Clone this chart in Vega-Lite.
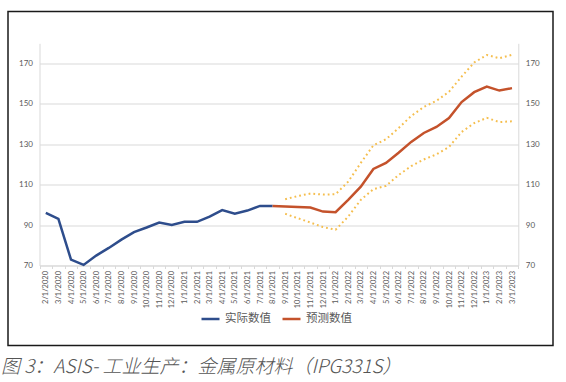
{
  "$schema": "https://vega.github.io/schema/vega-lite/v6.json",
  "width": 545,
  "height": 334,
  "autosize": {"type": "none"},
  "padding": {"left": 8, "top": 11.5, "right": 13, "bottom": 36.5},
  "background": "#ffffff",
  "title": {
    "text": "图 3：ASIS- 工业生产：金属原材料（IPG331S）",
    "orient": "bottom",
    "anchor": "start",
    "font": "Noto Sans CJK SC",
    "fontStyle": "italic",
    "fontWeight": 300,
    "fontSize": 19,
    "color": "#555555",
    "offset": 12,
    "dx": -3
  },
  "config": {
    "view": {"stroke": "#1a1a1a", "strokeWidth": 1.5}
  },
  "data": {
    "values": [
      {"d": "2/1/2020", "actual": 96.0},
      {"d": "3/1/2020", "actual": 93.1},
      {"d": "4/1/2020", "actual": 72.9},
      {"d": "5/1/2020", "actual": 70.3},
      {"d": "6/1/2020", "actual": 74.9},
      {"d": "7/1/2020", "actual": 78.7},
      {"d": "8/1/2020", "actual": 82.8},
      {"d": "9/1/2020", "actual": 86.5},
      {"d": "10/1/2020", "actual": 88.8},
      {"d": "11/1/2020", "actual": 91.3},
      {"d": "12/1/2020", "actual": 90.1},
      {"d": "1/1/2021", "actual": 91.6},
      {"d": "2/1/2021", "actual": 91.6},
      {"d": "3/1/2021", "actual": 94.2},
      {"d": "4/1/2021", "actual": 97.4},
      {"d": "5/1/2021", "actual": 95.6},
      {"d": "6/1/2021", "actual": 97.2},
      {"d": "7/1/2021", "actual": 99.5},
      {"d": "8/1/2021", "actual": 99.4, "fc": 99.4},
      {"d": "9/1/2021", "fc": 99.2, "up": 102.8, "lo": 95.6},
      {"d": "10/1/2021", "fc": 98.9, "up": 104.4, "lo": 93.4},
      {"d": "11/1/2021", "fc": 98.7, "up": 105.6, "lo": 91.3},
      {"d": "12/1/2021", "fc": 96.7, "up": 105.1, "lo": 89.0},
      {"d": "1/1/2022", "fc": 96.4, "up": 105.3, "lo": 87.7},
      {"d": "2/1/2022", "fc": 102.5, "up": 111.5, "lo": 94.2},
      {"d": "3/1/2022", "fc": 109.0, "up": 120.8, "lo": 102.5},
      {"d": "4/1/2022", "fc": 117.8, "up": 129.5, "lo": 107.8},
      {"d": "5/1/2022", "fc": 120.8, "up": 132.5, "lo": 109.4},
      {"d": "6/1/2022", "fc": 125.8, "up": 138.0, "lo": 114.8},
      {"d": "7/1/2022", "fc": 131.2, "up": 144.0, "lo": 119.2},
      {"d": "8/1/2022", "fc": 135.6, "up": 148.5, "lo": 122.5},
      {"d": "9/1/2022", "fc": 138.6, "up": 151.5, "lo": 125.0},
      {"d": "10/1/2022", "fc": 143.0, "up": 156.0, "lo": 128.7},
      {"d": "11/1/2022", "fc": 150.9, "up": 163.5, "lo": 136.1},
      {"d": "12/1/2022", "fc": 155.8, "up": 170.5, "lo": 140.5},
      {"d": "1/1/2023", "fc": 158.6, "up": 174.2, "lo": 143.1},
      {"d": "2/1/2023", "fc": 156.6, "up": 172.6, "lo": 141.0},
      {"d": "3/1/2023", "fc": 157.8, "up": 174.3, "lo": 141.4}
    ]
  },
  "encoding": {
    "x": {
      "field": "d",
      "type": "ordinal",
      "scale": {
        "type": "band",
        "domain": ["2/1/2020","3/1/2020","4/1/2020","5/1/2020","6/1/2020","7/1/2020","8/1/2020","9/1/2020","10/1/2020","11/1/2020","12/1/2020","1/1/2021","2/1/2021","3/1/2021","4/1/2021","5/1/2021","6/1/2021","7/1/2021","8/1/2021","9/1/2021","10/1/2021","11/1/2021","12/1/2021","1/1/2022","2/1/2022","3/1/2022","4/1/2022","5/1/2022","6/1/2022","7/1/2022","8/1/2022","9/1/2022","10/1/2022","11/1/2022","12/1/2022","1/1/2023","2/1/2023","3/1/2023"],
        "range": [31.5, 510.3],
        "paddingInner": 0,
        "paddingOuter": 0
      },
      "axis": {
        "title": null,
        "offset": -80,
        "tickBand": "extent",
        "labelAngle": -90,
        "labelFont": "Lato",
        "labelFontSize": 7.5,
        "labelColor": "#595959",
        "labelPadding": 2,
        "labelOverlap": false,
        "labelBound": false,
        "tickSize": 3,
        "tickColor": "#d9d9d9",
        "domainColor": "#d9d9d9",
        "grid": false
      }
    }
  },
  "layer": [
    {
      "mark": {"type": "line", "color": "#F5BE4E", "strokeWidth": 2, "strokeDash": [1.8, 3]},
      "encoding": {
        "y": {"field": "up", "type": "quantitative", "scale": {"domain": [70, 180], "range": [254, 31.8], "nice": false, "zero": false}, "axis": null}
      }
    },
    {
      "mark": {"type": "line", "color": "#F5BE4E", "strokeWidth": 2, "strokeDash": [1.8, 3]},
      "encoding": {
        "y": {"field": "lo", "type": "quantitative", "scale": {"domain": [70, 180], "range": [254, 31.8], "nice": false, "zero": false}, "axis": null}
      }
    },
    {
      "mark": {"type": "line", "strokeWidth": 2.5},
      "encoding": {
        "y": {
          "field": "actual", "type": "quantitative",
          "scale": {"domain": [70, 180], "range": [254, 31.8], "nice": false, "zero": false},
          "axis": {
            "orient": "left", "offset": -31.5, "title": null,
            "values": [70, 90, 110, 130, 150, 170],
            "grid": true, "gridColor": "#d9d9d9",
            "domainColor": "#d9d9d9", "ticks": false, "tickSize": 0,
            "labelPadding": 7, "labelFont": "Lato", "labelFontSize": 8, "labelColor": "#595959"
          }
        },
        "color": {
          "datum": "实际数值",
          "scale": {"domain": ["实际数值", "预测数值"], "range": ["#2E4D8C", "#C4522B"]},
          "legend": {
            "title": null, "orient": "none", "legendX": 192, "legendY": 297,
            "direction": "horizontal", "symbolType": "stroke", "symbolSize": 324,
            "symbolStrokeWidth": 2.5, "labelFont": "Noto Sans CJK SC", "labelFontSize": 11.5,
            "labelColor": "#595959", "columnPadding": 6, "labelOffset": 4, "padding": 0
          }
        }
      }
    },
    {
      "mark": {"type": "line", "strokeWidth": 2.5},
      "encoding": {
        "y": {
          "field": "fc", "type": "quantitative",
          "scale": {"domain": [70, 180], "range": [254, 31.8], "nice": false, "zero": false},
          "axis": {
            "orient": "right", "offset": -34.7, "title": null,
            "values": [70, 90, 110, 130, 150, 170],
            "grid": false,
            "domainColor": "#d9d9d9", "ticks": false, "tickSize": 0,
            "labelPadding": 7, "labelFont": "Lato", "labelFontSize": 8, "labelColor": "#595959"
          }
        },
        "color": {"datum": "预测数值"}
      }
    }
  ],
  "resolve": {"axis": {"y": "independent"}}
}
